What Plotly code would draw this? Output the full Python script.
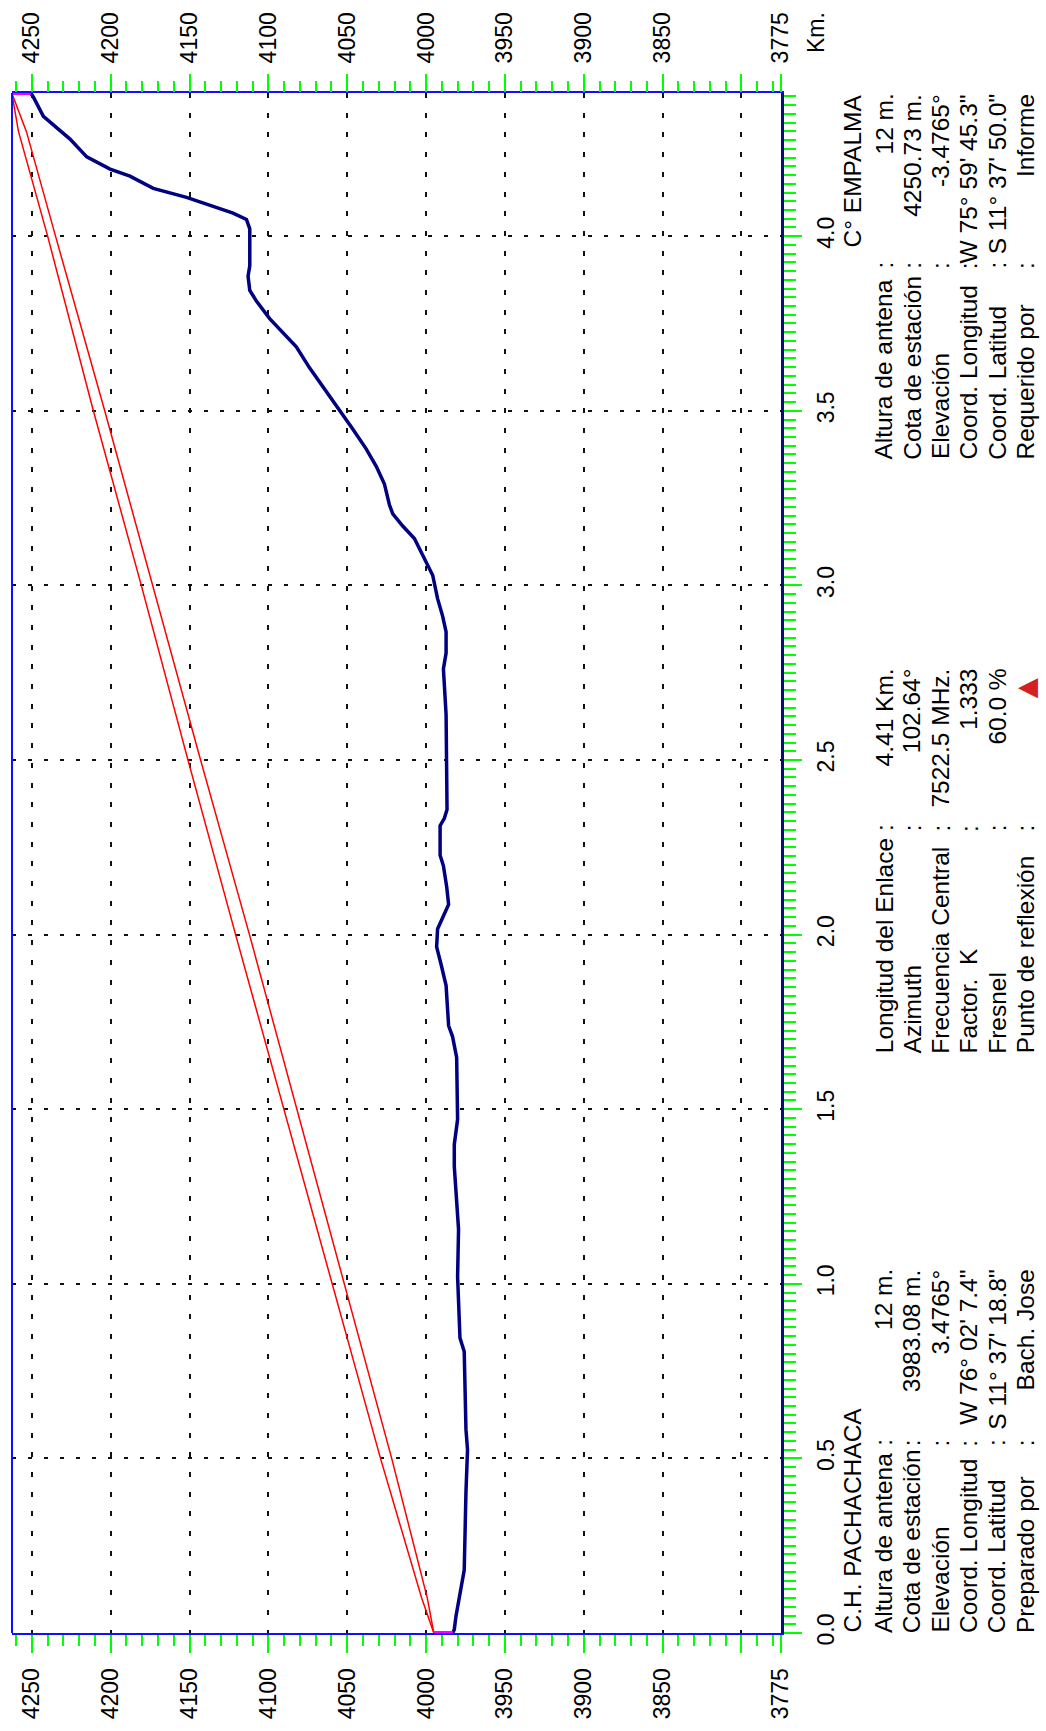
import plotly.graph_objects as go

# ---------------- data ----------------
# terrain profile (distance km, elevation m)
dist_km = [0.000, 0.010, 0.049, 0.092, 0.136, 0.180, 0.403, 0.525, 0.583, 0.806,
           0.845, 0.933, 1.020, 1.156, 1.243, 1.336, 1.399, 1.437, 1.471, 1.648,
           1.708, 1.739, 1.854, 1.915, 1.965, 2.016, 2.056, 2.086, 2.136, 2.197,
           2.227, 2.312, 2.333, 2.358, 2.630, 2.715, 2.761, 2.806, 2.867, 2.912,
           2.962, 3.029, 3.079, 3.134, 3.170, 3.205, 3.230, 3.290, 3.341, 3.391,
           3.447, 3.502, 3.567, 3.623, 3.683, 3.724, 3.764, 3.814, 3.845, 3.885,
           3.915, 4.021, 4.048, 4.066, 4.086, 4.111, 4.137, 4.172, 4.192, 4.227,
           4.278, 4.318, 4.343, 4.398, 4.410]
elev_m = [3983.08, 3982.1, 3981.0, 3979.4, 3977.8, 3975.8, 3974.7, 3973.7, 3974.7, 3975.8,
          3978.5, 3979.4, 3980.0, 3979.4, 3980.6, 3982.1, 3982.1, 3981.0, 3980.0, 3980.6,
          3983.2, 3985.7, 3987.3, 3990.5, 3993.3, 3992.7, 3988.4, 3985.7, 3986.9, 3989.0,
          3991.1, 3991.1, 3988.4, 3986.7, 3987.3, 3988.4, 3989.0, 3987.3, 3987.3, 3989.5,
          3992.7, 3995.8, 4001.1, 4007.4, 4014.8, 4021.1, 4023.2, 4026.4, 4031.6, 4038.0,
          4046.4, 4054.9, 4065.4, 4073.9, 4082.3, 4090.8, 4099.2, 4107.6, 4111.8, 4112.9,
          4111.8, 4111.8, 4113.9, 4122.4, 4135.0, 4151.9, 4173.0, 4187.8, 4200.4, 4215.2,
          4225.8, 4236.3, 4242.7, 4249.0, 4250.73]

# red Fresnel lines
fres_km = [0.0, 0.1, 0.5, 1.0, 1.5, 2.0, 2.5, 3.0, 3.5, 4.0, 4.3, 4.41]
fres_upper = [3995.08, 4002.8, 4028.9, 4059.5, 4090.4, 4120.8, 4151.0, 4180.6, 4211.0, 4240.0, 4258.5, 4262.73]
fres_lower = [3995.08, 3999.2, 4021.8, 4052.0, 4082.0, 4112.0, 4143.0, 4173.2, 4203.8, 4235.0, 4253.5, 4262.73]

# antennas (distance, ground, top)
ant_km = [0.0, 4.41]
ant_ground = [3983.08, 4250.73]
ant_top = [3995.08, 4262.73]

# axis ticks
elev_ticks = [4250, 4200, 4150, 4100, 4050, 4000, 3950, 3900, 3850, 3800, 3775]
elev_ticktext = ["4250", "4200", "4150", "4100", "4050", "4000", "3950", "3900", "3850", "", "3775"]
dist_ticks = [0.0, 0.5, 1.0, 1.5, 2.0, 2.5, 3.0, 3.5, 4.0]
dist_ticktext = ["0.0", "0.5", "1.0", "1.5", "2.0", "2.5", "3.0", "3.5", "4.0"]

# text blocks
labels_a = ["Altura de antena", "Cota de estación", "Elevación", "Coord. Longitud", "Coord. Latitud", "Preparado por"]
values_a = ["12 m.", "3983.08 m.", "3.4765°", "W 76° 02' 7.4\"", "S 11° 37' 18.8\"", "Bach. Jose"]
labels_m = ["Longitud del Enlace", "Azimuth", "Frecuencia Central", "Factor.  K", "Fresnel", "Punto de reflexión"]
values_m = ["4.41 Km.", "102.64°", "7522.5 MHz.", "1.333", "60.0 %", ""]
labels_b = ["Altura de antena", "Cota de estación", "Elevación", "Coord. Longitud", "Coord. Latitud", "Requerido por"]
values_b = ["12 m.", "4250.73 m.", "-3.4765°", "W 75° 59' 45.3\"", "S 11° 37' 50.0\"", "Informe"]
station_a = "C.H. PACHACHACA"
station_b = "C° EMPALMA"

# ---------------- layout constants ----------------
W, H = 1046, 1731
L, R, T, B = 12, 781, 87, 1650
FONT = "Liberation Sans, Arial, sans-serif"
GREEN = "#00FF00"
BLUE = "#1010FF"

X_RANGE = [4262.6, 3774.9]
Y_RANGE = [0, 4.41]


def px(x):
    return (x - L) / (R - L)


def py(y):
    return (B - y) / (B - T)


fig = go.Figure()

# Fresnel lines
fig.add_trace(go.Scatter(x=fres_upper, y=fres_km, mode="lines",
                         line=dict(color="#FF0000", width=1.5), hoverinfo="skip"))
fig.add_trace(go.Scatter(x=fres_lower, y=fres_km, mode="lines",
                         line=dict(color="#FF0000", width=1.5), hoverinfo="skip"))
# terrain
fig.add_trace(go.Scatter(x=elev_m, y=dist_km, mode="lines",
                         line=dict(color="#000080", width=3.5)))
# antennas
fig.add_trace(go.Scatter(x=[ant_ground[0], ant_top[0]], y=[ant_km[0], ant_km[0]], mode="lines",
                         line=dict(color="#FF00FF", width=4)))
fig.add_trace(go.Scatter(x=[ant_ground[1], ant_top[1]], y=[ant_km[1], ant_km[1]], mode="lines",
                         line=dict(color="#FF00FF", width=4), xaxis="x2"))

minor_x = [v for v in range(4260, 3775, -10) if v % 50 != 0]
minor_y = [i * 0.025 for i in range(0, 177) if i % 20 != 0]

tickfont = dict(family=FONT, size=23, color="#000000")

common_x = dict(range=X_RANGE, autorange=False, tickmode="array", tickvals=elev_ticks,
                ticktext=elev_ticktext, tickangle=-90, ticks="outside", ticklen=18,
                tickwidth=2, tickcolor=GREEN, tickfont=tickfont,
                minor=dict(tickmode="array", tickvals=minor_x, ticks="outside", ticklen=11,
                           tickwidth=2, tickcolor=GREEN, showgrid=False),
                zeroline=False, ticklabelstandoff=6)

fig.update_layout(
    width=W, height=H,
    margin=dict(l=L, r=W - R, t=T, b=H - B, pad=0),
    paper_bgcolor="white", plot_bgcolor="white",
    showlegend=False,
    xaxis=dict(**common_x, side="bottom", showgrid=True, gridcolor="#111111", gridwidth=2,
               griddash="5px,14.7px", showline=True, linecolor=BLUE, linewidth=2, mirror=True),
    xaxis2=dict(**common_x, side="top", overlaying="x", anchor="y", showgrid=False,
                showline=False),
    yaxis=dict(range=Y_RANGE, autorange=False, side="right", tickmode="array",
               tickvals=dist_ticks, ticktext=dist_ticktext, tickangle=-90,
               ticks="outside", ticklen=18, tickwidth=2, tickcolor=GREEN, tickfont=tickfont,
               minor=dict(tickmode="array", tickvals=minor_y, ticks="outside", ticklen=12,
                          tickwidth=2, tickcolor=GREEN, showgrid=False),
               showgrid=True, gridcolor="#111111", gridwidth=2, griddash="4px,12px",
               showline=True, linecolor="#0A0A80", linewidth=3, zeroline=False,
               ticklabelstandoff=4),
)

# left border (blue)
fig.add_shape(type="line", xref="paper", yref="paper", x0=0, x1=0, y0=0, y1=1,
              line=dict(color=BLUE, width=2))

ann = []
MAIN = 24.5


def add_text(text, x, y, yanchor, size=MAIN, color="#000000"):
    ann.append(dict(text=text, x=px(x), y=py(y), xref="paper", yref="paper",
                    xanchor="center", yanchor=yanchor, textangle=-90, showarrow=False,
                    font=dict(family=FONT, size=size, color=color), borderpad=0))


# Km. label
add_text("Km.", 816, 48, "bottom", size=23)
# station titles
add_text(station_a, 852, 1651, "bottom")
add_text(station_b, 852, 88, "top")

ROW0, DROW = 884, 28.3
blocks = [
    (labels_a, values_a, 1651, 1457, 1280),
    (labels_m, values_m, 1063, 833, 670),
    (labels_b, values_b, 460, 262, 87),
]
for labels, values, y_start, y_colon, y_end in blocks:
    for i, (lab, val) in enumerate(zip(labels, values)):
        xc = ROW0 + DROW * i
        add_text(lab, xc, y_start, "bottom")
        add_text(":", xc, y_colon, "middle")
        if val:
            add_text(val, xc, y_end, "top")

# reflection point marker
add_text("▲", 1026, 691, "middle", size=34, color="#D42020")

fig.update_layout(annotations=ann)

fig.write_html("out.html")
